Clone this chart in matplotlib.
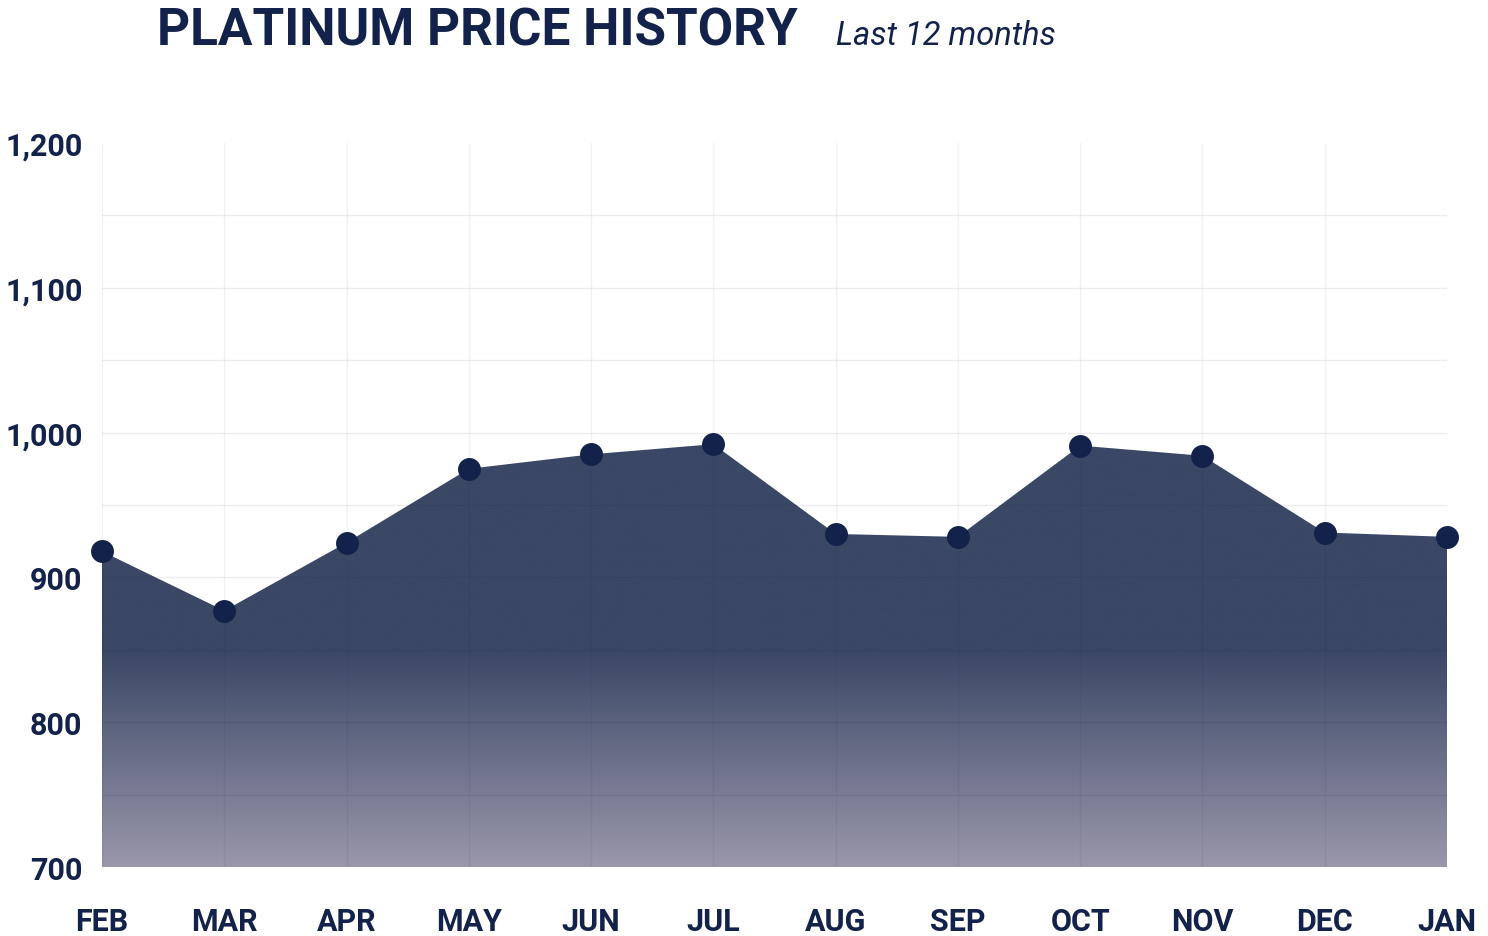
import matplotlib
matplotlib.use("Agg")
import matplotlib.pyplot as plt
import numpy as np
from matplotlib.colors import LinearSegmentedColormap
from matplotlib.patches import Polygon

months = ["FEB", "MAR", "APR", "MAY", "JUN", "JUL", "AUG", "SEP", "OCT", "NOV", "DEC", "JAN"]
prices = [918, 877, 924, 975, 985, 992, 930, 928, 991, 984, 931, 928]
y_ticks = [700, 800, 900, 1000, 1100, 1200]
y_tick_labels = ["700", "800", "900", "1,000", "1,100", "1,200"]
title = "PLATINUM PRICE HISTORY"
subtitle = "Last 12 months"

navy = "#13224a"
fill_top = "#3a4765"
fill_bottom = "#9a97ab"

fig = plt.figure(figsize=(14.88, 9.37), dpi=100)
ax = fig.add_axes([102/1488, 1 - 868/937, (1447-102)/1488, (868-144)/937])

x = np.arange(len(months))
ax.set_xlim(0, len(months) - 1)
ax.set_ylim(700, 1200)

# gradient fill clipped to area polygon
cmap = LinearSegmentedColormap.from_list("g", [(0, fill_bottom), (1, fill_top)])
grad = np.clip((np.linspace(700, 1200, 500) - 700) / 150, 0, 1).reshape(-1, 1)
im = ax.imshow(grad, cmap=cmap, vmin=0, vmax=1, aspect="auto", origin="lower",
               extent=[0, len(months) - 1, 700, 1200], zorder=1)
verts = [(0, 700)] + list(zip(x, prices)) + [(len(months) - 1, 700)]
poly = Polygon(verts, closed=True, facecolor="none", edgecolor="none")
ax.add_patch(poly)
im.set_clip_path(poly)

# grid
for v in np.arange(750, 1200, 50):
    ax.axhline(v, color=(0.1, 0.1, 0.3, 0.08), lw=1, zorder=2)
for xi in x:
    ax.axvline(xi, color=(0.1, 0.1, 0.3, 0.06), lw=1, zorder=2)

ax.plot(x, prices, "o", color=navy, markersize=15.5, zorder=4, clip_on=False)

for s in ax.spines.values():
    s.set_visible(False)
ax.set_xticks(x)
ax.set_xticklabels(months)
ax.set_yticks(y_ticks)
ax.set_yticklabels(y_tick_labels)
ax.tick_params(length=0, labelcolor=navy)
ax.tick_params(axis="x", pad=28)
ax.tick_params(axis="y", pad=14)
for lbl in ax.get_xticklabels() + ax.get_yticklabels():
    lbl.set_fontfamily("Roboto")
    lbl.set_fontweight("bold")
    lbl.set_fontsize(22)

fig.text(157/1488, 1 - 31/937, title, fontfamily="Roboto", fontweight="bold",
         fontsize=37, color=navy, va="center", ha="left")
fig.text(836/1488, 1 - 36/937, subtitle, fontfamily="Roboto", fontstyle="italic",
         fontsize=23.5, color=navy, va="center", ha="left")

fig.savefig("out.png", dpi=100, facecolor="white")
